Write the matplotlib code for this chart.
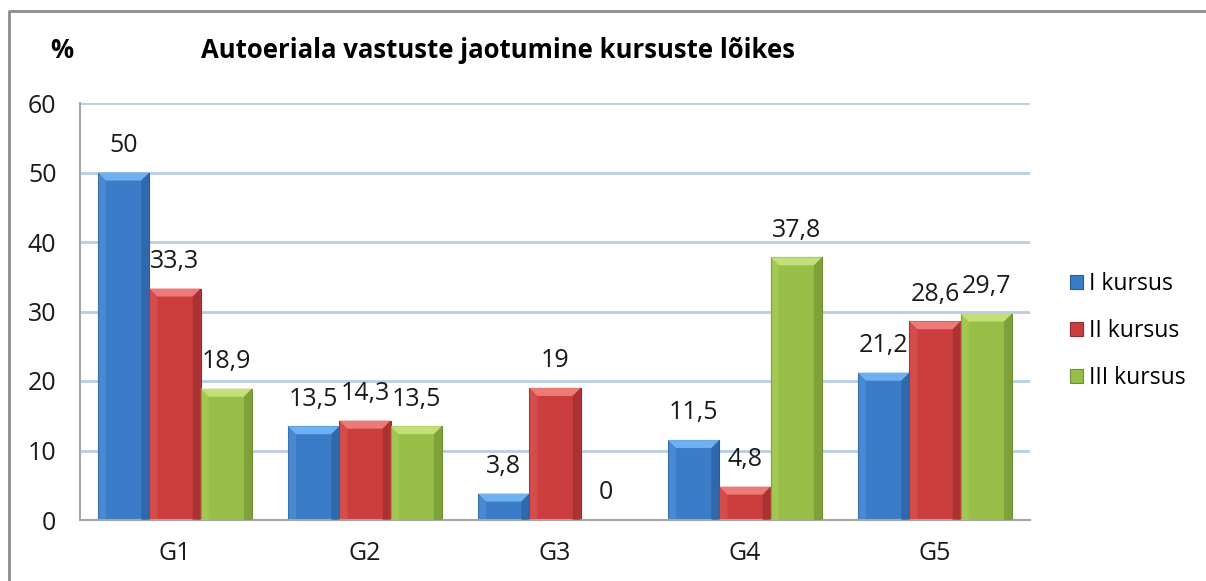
import matplotlib.pyplot as plt
from matplotlib.patches import Polygon
from matplotlib.lines import Line2D
import numpy as np

categories = ['G1', 'G2', 'G3', 'G4', 'G5']
series_names = ['I kursus', 'II kursus', 'III kursus']
kursus1 = [50, 13.5, 3.8, 11.5, 21.2]
kursus2 = [33.3, 14.3, 19, 4.8, 28.6]
kursus3 = [18.9, 13.5, 0, 37.8, 29.7]
yticks = [0, 10, 20, 30, 40, 50, 60]

# face, light bevel, dark bevel
colors = [('#3B7CC8', '#6FB0F0', '#2A5C9A'),
          ('#CC3E3E', '#EE7A78', '#952B2B'),
          ('#97BF47', '#C3E078', '#6E8E30')]

plt.rcParams['font.family'] = ['Open Sans', 'DejaVu Sans']
W, H = 1206, 581
fig = plt.figure(figsize=(W / 100, H / 100), dpi=100)
ax = fig.add_axes([80 / W, 1 - 520 / H, 950 / W, 417 / H])

x = np.arange(len(categories))
bw = 0.27
px_x = 1 / 190.0      # data units per pixel
px_y = 60 / 417.0


def bevel(rect, face, light, dark):
    x0, w, h = rect.get_x(), rect.get_width(), rect.get_height()
    if h <= 0:
        return
    bx, by = 8 * px_x, min(8 * px_y, h / 2)
    x1 = x0 + w
    top = [(x0, h), (x1, h), (x1 - bx, h - by), (x0 + bx, h - by)]
    left = [(x0, 0), (x0, h), (x0 + bx, h - by), (x0 + bx, 0)]
    right = [(x1, 0), (x1, h), (x1 - bx, h - by), (x1 - bx, 0)]
    ax.add_patch(Polygon(top, closed=True, fc=light, ec='none', zorder=3))
    ax.add_patch(Polygon(left, closed=True, fc=light, ec='none', alpha=0.25, zorder=3))
    ax.add_patch(Polygon(right, closed=True, fc=dark, ec='none', alpha=0.6, zorder=3))


for i, (vals, name) in enumerate(zip([kursus1, kursus2, kursus3], series_names)):
    face, light, dark = colors[i]
    bars = ax.bar(x + (i - 1) * bw, vals, bw, color=face, edgecolor=dark,
                  linewidth=0.8, label=name, zorder=2)
    for r, v in zip(bars, vals):
        bevel(r, face, light, dark)
        ax.annotate(f'{v:g}'.replace('.', ','), (r.get_x() + r.get_width() / 2, v),
                    xytext=(0, 19.5), textcoords='offset points', ha='center',
                    va='center', fontsize=18, color='#1a1a1a')

ax.set_xlim(-0.5, len(categories) - 0.5)
ax.set_ylim(0, 60)
ax.set_yticks(yticks)
ax.set_xticks(x)
ax.set_xticklabels(categories)
ax.tick_params(axis='both', length=0, labelsize=18, colors='#1a1a1a')
ax.tick_params(axis='y', pad=17)
ax.tick_params(axis='x', pad=15)
ax.grid(axis='y', color='#B9CDE5', linewidth=2, zorder=0)
ax.set_axisbelow(True)
for s in ['top', 'right']:
    ax.spines[s].set_visible(False)
for s in ['left', 'bottom']:
    ax.spines[s].set_color('#A6A6A6')
    ax.spines[s].set_linewidth(1.5)

fig.text(62 / W, 1 - 50 / H, '%', ha='center', va='center', fontsize=18.5,
         fontweight='bold')
fig.text(498 / W, 1 - 50 / H, 'Autoeriala vastuste jaotumine kursuste lõikes',
         ha='center', va='center', fontsize=18.5, fontweight='bold')

handles, labels = ax.get_legend_handles_labels()
fig.legend(handles, labels, loc='center left', bbox_to_anchor=(1049 / W, 1 - 331 / H),
           frameon=False, fontsize=16.5, handlelength=0.6, handleheight=0.6,
           handletextpad=0.25, labelspacing=1.0)

# chart frame
fig.add_artist(Line2D([9 / W, 9 / W, 1], [0, 1 - 11 / H, 1 - 11 / H],
                      transform=fig.transFigure, color='#8C8C8C', linewidth=2))

fig.savefig('out.png', dpi=100)
